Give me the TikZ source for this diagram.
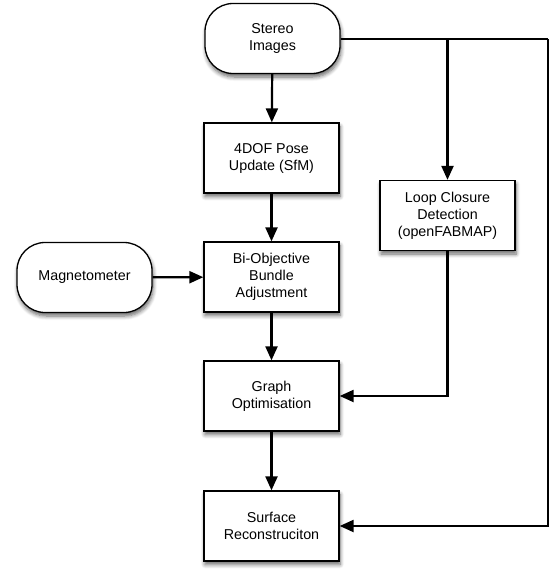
\documentclass[tikz,border=0pt]{standalone}
\usepackage{fontspec}
\setmainfont{Liberation Sans}
\usetikzlibrary{arrows.meta,shadows.blur,calc}
\begin{document}
\begin{tikzpicture}[x=1pt,y=1pt,
  base/.style={draw=black, line width=1.3pt, fill=white, minimum width=135pt, minimum height=70pt,
    align=center, inner sep=2pt, font=\fontsize{14.3}{17}\selectfont,
    blur shadow={shadow xshift=1pt, shadow yshift=-3.5pt, shadow blur steps=6, shadow blur radius=4pt, shadow opacity=60}},
  procbox/.style={base, rectangle},
  termbox/.style={base, rectangle, rounded corners=28pt},
  conn/.style={line width=2.2pt, draw=black},
  arr/.style={conn, -{Triangle[length=14pt,width=12pt]}}
]
\useasboundingbox (0,0) rectangle (554,-570);
\node[termbox] (stereo) at (272.5,-38.5) {Stereo\\Images};
\node[procbox] (pose) at (271.5,-158) {4DOF Pose\\Update (SfM)};
\node[procbox] (bundle) at (271.5,-277) {Bi-Objective\\Bundle\\Adjustment};
\node[termbox] (mag) at (84.5,-277.5) {Magnetometer};
\node[procbox] (loop) at (447.5,-215.5) {Loop Closure\\Detection\\(openFABMAP)};
\node[procbox] (graph) at (271.5,-396) {Graph\\Optimisation};
\node[procbox] (surface) at (271.5,-526) {Surface\\Reconstruciton};
\coordinate (j) at (447.5,-39);
\coordinate (r) at (548,-39);
\draw[arr] (stereo) -- (pose);
\draw[arr] (pose) -- (bundle);
\draw[arr] (mag) -- (bundle);
\draw[arr] (bundle) -- (graph);
\draw[arr] (graph) -- (surface);
\draw[conn] (stereo.east |- j) -- (r);
\draw[arr] (j) -- (loop.north);
\draw[arr] (loop.south) |- (graph.east);
\draw[arr] (r) |- (surface.east);
\end{tikzpicture}
\end{document}
